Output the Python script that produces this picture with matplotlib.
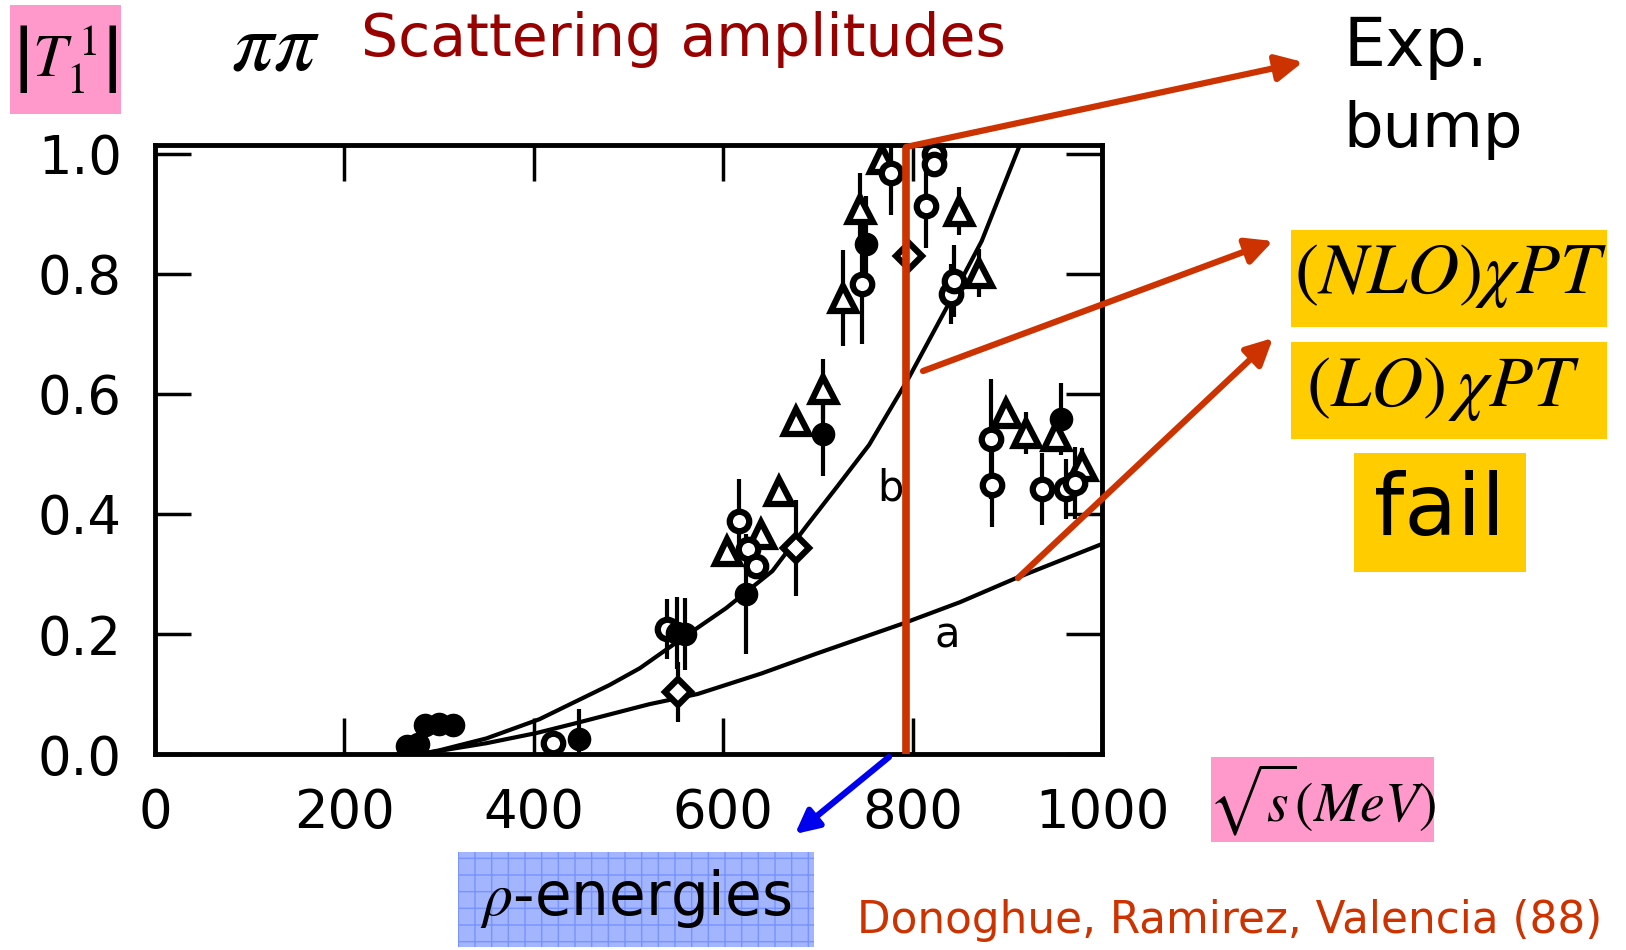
import numpy as np
import matplotlib.pyplot as plt
from matplotlib.patches import Rectangle, FancyArrowPatch
from matplotlib.lines import Line2D

plt.rcParams['mathtext.fontset'] = 'stix'
plt.rcParams['hatch.linewidth'] = 1.0

# curves
nlo_x = [280, 300, 350, 406, 441, 480, 512, 557, 603, 652, 688, 720, 754, 796, 838, 873, 912]
nlo_y = [0.0, 0.006, 0.026, 0.058, 0.085, 0.115, 0.143, 0.193, 0.243, 0.305, 0.38, 0.445, 0.515, 0.627, 0.75, 0.855, 1.01]
lo_x = [280, 350, 403, 441, 522, 573, 640, 698, 789, 850, 909, 1000]
lo_y = [0.0, 0.018, 0.035, 0.05, 0.083, 0.10, 0.134, 0.167, 0.217, 0.253, 0.293, 0.35]

# data points (open triangles, open circles, open diamonds, filled circles)
tri_x = [604, 640, 659, 677, 705, 726, 744, 768, 849, 870, 899, 920, 951, 979]
tri_y = [0.338, 0.367, 0.438, 0.555, 0.608, 0.76, 0.908, 0.992, 0.905, 0.802, 0.568, 0.535, 0.53, 0.48]
tri_e = [0.0, 0.0, 0.0, 0.0, 0.05, 0.08, 0.06, 0.0, 0.04, 0.04, 0.0, 0.035, 0.0, 0.03]

circ_x = [420, 541, 617, 626, 635, 747, 777, 814, 823, 823, 841, 844, 883, 884, 937, 962, 972]
circ_y = [0.018, 0.208, 0.388, 0.342, 0.313, 0.783, 0.968, 0.913, 1.0, 0.983, 0.767, 0.788, 0.525, 0.448, 0.442, 0.442, 0.452]
circ_e = [0.02, 0.05, 0.07, 0.0, 0.0, 0.1, 0.07, 0.07, 0.0, 0.0, 0.05, 0.06, 0.1, 0.07, 0.06, 0.05, 0.06]

dia_x = [552, 677, 796]
dia_y = [0.103, 0.343, 0.83]
dia_e = [0.05, 0.08, 0.0]

fill_x = [266, 278, 285, 300, 315, 448, 551, 560, 624, 705, 751, 957]
fill_y = [0.013, 0.016, 0.048, 0.05, 0.048, 0.025, 0.202, 0.2, 0.267, 0.533, 0.85, 0.558]
fill_e = [0, 0, 0, 0, 0, 0.05, 0.06, 0.06, 0.1, 0.07, 0.08, 0.06]

xticks = [0, 200, 400, 600, 800, 1000]
yticks = [0.0, 0.2, 0.4, 0.6, 0.8, 1.0]

W, H = 1626, 950
fig = plt.figure(figsize=(16.26, 9.5), dpi=100)

def fx(x):
    return x / W

def fy(y):
    return 1 - y / H

ax = fig.add_axes([fx(155), fy(754), (1102 - 155) / W, (754 - 145) / H])

ax.plot(nlo_x, nlo_y, color='k', lw=3)
ax.plot(lo_x, lo_y, color='k', lw=3)

for xs, ys, es in [(tri_x, tri_y, tri_e), (circ_x, circ_y, circ_e),
                   (dia_x, dia_y, dia_e), (fill_x, fill_y, fill_e)]:
    ax.errorbar(xs, ys, yerr=es, fmt='none', ecolor='k', elinewidth=3, capsize=0)

ax.plot(tri_x, tri_y, ls='none', marker='^', ms=18, mfc='white', mec='k', mew=4.5)
ax.plot(circ_x, circ_y, ls='none', marker='o', ms=14, mfc='white', mec='k', mew=4.5)
ax.plot(dia_x, dia_y, ls='none', marker='D', ms=13, mfc='white', mec='k', mew=4.5)
ax.plot(fill_x, fill_y, ls='none', marker='o', ms=16, mfc='k', mec='k')

ax.text(777, 0.443, 'b', fontsize=30, ha='center', va='center')
ax.text(837, 0.198, 'a', fontsize=30, ha='center', va='center')

ax.set_xlim(0, 1000)
ax.set_ylim(0, 1.015)
ax.set_xticks(xticks)
ax.set_yticks(yticks)
ax.set_yticklabels(['%.1f' % v for v in yticks])
ax.tick_params(direction='in', length=26, width=2.5, top=True, right=True,
               labelsize=38, pad=24)
for s in ax.spines.values():
    s.set_linewidth(3.5)

# header labels
fig.patches.append(Rectangle((fx(10), fy(114)), 111 / W, 109 / H, transform=fig.transFigure,
                             facecolor='#ff99cc', edgecolor='none'))
fig.text(fx(65), fy(60), r'$\left|T_1^{\,1}\right|$', fontsize=44, ha='center', va='center')
fig.text(fx(275), fy(46), r'$\pi\pi$', fontsize=60, ha='center', va='center')
fig.text(fx(361), fy(40), 'Scattering amplitudes', fontsize=42, color='#990000',
         ha='left', va='center')

fig.text(fx(1343), fy(47), 'Exp.', fontsize=48, ha='left', va='center')
fig.text(fx(1343), fy(130), 'bump', fontsize=45, ha='left', va='center')

yel = '#ffcc00'
fig.patches.append(Rectangle((fx(1291), fy(327)), 316 / W, 97 / H, transform=fig.transFigure,
                             facecolor=yel, edgecolor='none'))
fig.text(fx(1451), fy(276), r'$(NLO)\chi PT$', fontsize=52, ha='center', va='center')
fig.patches.append(Rectangle((fx(1291), fy(439)), 316 / W, 97 / H, transform=fig.transFigure,
                             facecolor=yel, edgecolor='none'))
fig.text(fx(1443), fy(388), r'$(LO)\,\chi PT$', fontsize=52, ha='center', va='center')
fig.patches.append(Rectangle((fx(1354), fy(572)), 172 / W, 119 / H, transform=fig.transFigure,
                             facecolor=yel, edgecolor='none'))
fig.text(fx(1440), fy(512), 'fail', fontsize=62, ha='center', va='center')

fig.patches.append(Rectangle((fx(1211), fy(842)), 223 / W, 85 / H, transform=fig.transFigure,
                             facecolor='#ff99cc', edgecolor='none'))
fig.text(fx(1322), fy(800), r'$\sqrt{s}\left(MeV\right)$', fontsize=40, ha='center', va='center')

fig.patches.append(Rectangle((fx(458), fy(947)), 356 / W, 95 / H, transform=fig.transFigure,
                             facecolor='#a3b5ff', edgecolor='#7892ff', hatch='+', linewidth=0))
fig.text(fx(636), fy(898), r'$\rho$-energies', fontsize=43, ha='center', va='center')

fig.text(fx(1602), fy(921), 'Donoghue, Ramirez, Valencia (88)', fontsize=31.5,
         color='#cc3300', ha='right', va='center')

# red marker line at the rho bump and arrows
red = '#cc3300'
fig.lines.append(Line2D([fx(906), fx(906)], [fy(754), fy(147)], transform=fig.transFigure,
                        color=red, lw=5.5, solid_capstyle='butt'))
for start, end in [((906, 147), (1303, 62)), ((923, 371), (1273, 241)), ((1018, 578), (1273, 338))]:
    fig.patches.append(FancyArrowPatch((fx(start[0]), fy(start[1])), (fx(end[0]), fy(end[1])),
                                       transform=fig.transFigure, arrowstyle='-|>',
                                       mutation_scale=40, color=red, lw=4.5,
                                       shrinkA=0, shrinkB=0))
fig.patches.append(FancyArrowPatch((fx(889), fy(757)), (fx(795), fy(834)),
                                   transform=fig.transFigure, arrowstyle='-|>',
                                   mutation_scale=35, color='#0000ee', lw=4.5,
                                   shrinkA=0, shrinkB=0))

fig.savefig('out.png', dpi=100)
